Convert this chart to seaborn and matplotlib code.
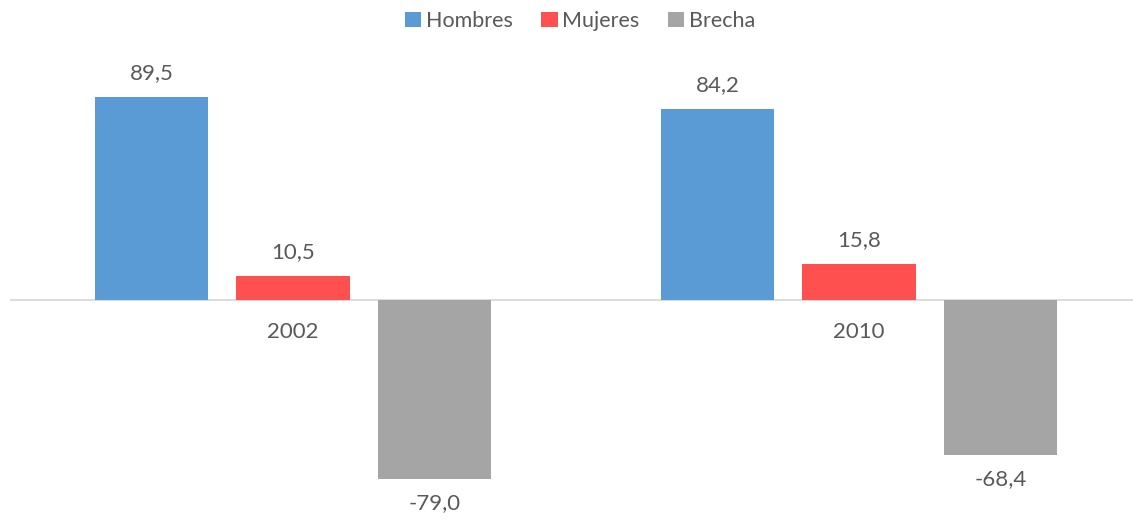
import matplotlib
matplotlib.use("Agg")
import matplotlib.pyplot as plt
import seaborn as sns
import pandas as pd
from matplotlib.patches import Patch

years = ["2002", "2010"]
series = ["Hombres", "Mujeres", "Brecha"]
hombres = [89.5, 84.2]
mujeres = [10.5, 15.8]
brecha = [-79.0, -68.4]
colors = ["#5B9BD5", "#FF5050", "#A5A5A5"]

rows = []
for name, vals in zip(series, [hombres, mujeres, brecha]):
    for y, v in zip(years, vals):
        rows.append({"year": y, "serie": name, "valor": v})
df = pd.DataFrame(rows)

sns.set_theme(style="white")
plt.rcParams['font.family'] = ['Lato', 'DejaVu Sans']
txt = "#595959"

fig = plt.figure(figsize=(11.33, 5.21), dpi=100)
W, H = 1133, 521
ax = fig.add_axes([10 / W, 6 / H, 1132 / W, 480 / H])

sns.barplot(data=df, x="year", y="valor", hue="serie", hue_order=series,
            order=years, palette=colors, width=0.75, gap=0.2, ax=ax,
            legend=False, saturation=1, errorbar=None, linewidth=0)

ax.set_ylim(-94.7, 116.7)
ax.set_xlim(-0.5, 1.5)
ax.axhline(0, color="#D9D9D9", lw=1.3, zorder=0)
for s in ax.spines.values():
    s.set_visible(False)
ax.spines['bottom'].set_position(('data', 0))
ax.set_yticks([])
ax.set_xlabel("")
ax.set_ylabel("")
ax.tick_params(axis="x", length=0, pad=16, labelsize=16, labelcolor=txt)

for cont in ax.containers:
    labels = [f"{b.get_height():.1f}".replace(".", ",") for b in cont]
    ax.bar_label(cont, labels=labels, padding=10, fontsize=16, color=txt)

handles = [Patch(facecolor=c, edgecolor="none") for c in colors]
fig.legend(handles, series, loc="center", bbox_to_anchor=(580 / W, 1 - 21 / H),
           ncol=3, frameon=False, fontsize=15.5, labelcolor=txt,
           handlelength=0.75, handleheight=0.75, handletextpad=0.2, columnspacing=1.35)

fig.savefig("out.png", dpi=100)
